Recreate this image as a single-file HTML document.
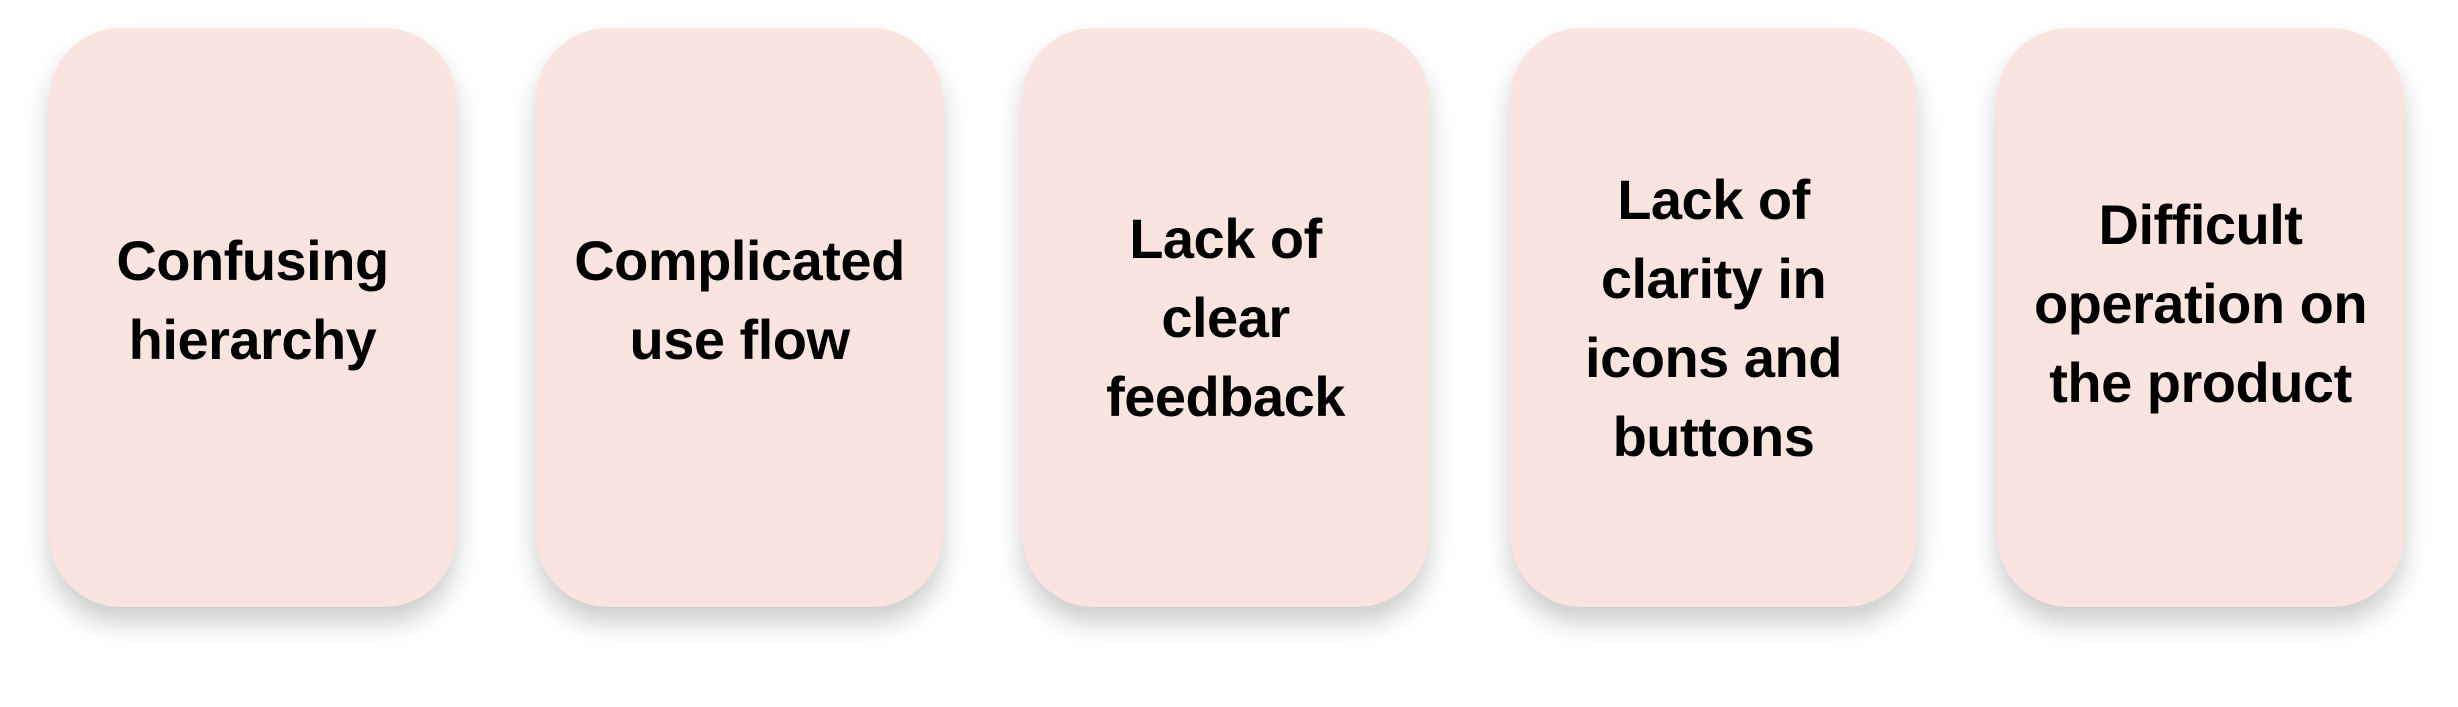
<!DOCTYPE html>
<html><head><meta charset="utf-8"><style>
html,body{margin:0;padding:0;background:#fff;width:2458px;height:707px;overflow:hidden}
.card{position:absolute;top:28px;width:407px;height:579px;background:#f9e4e0;border-radius:72px;
box-shadow:0 16px 26px rgba(0,0,0,0.2);display:flex;align-items:center;justify-content:center;text-align:center;
font-family:"Liberation Sans",sans-serif;font-weight:bold;font-size:56px;line-height:79px;color:#000;letter-spacing:-0.5px;box-sizing:border-box}
.two{padding-bottom:36px}
</style></head><body>
<div class="card two" style="left:49px">Confusing<br>hierarchy</div>
<div class="card two" style="left:536px">Complicated<br>use flow</div>
<div class="card" style="left:1022px">Lack of<br>clear<br>feedback</div>
<div class="card" style="left:1510px">Lack of<br>clarity in<br>icons and<br>buttons</div>
<div class="card" style="left:1997px;padding-bottom:28px">Difficult<br>operation on<br>the product</div>
</body></html>
